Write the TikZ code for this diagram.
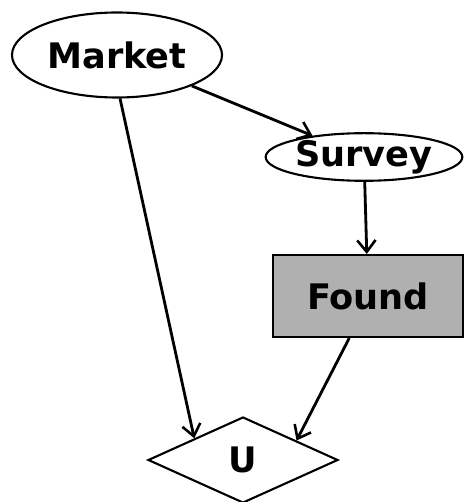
\documentclass[tikz,border=0pt]{standalone}
\usepackage{fontspec}
\setmainfont{DejaVu Sans}
\usetikzlibrary{shapes.geometric,arrows.meta}
\begin{document}
\begin{tikzpicture}[
  chance/.style={draw,ellipse,line width=1.8pt,inner sep=0pt,font=\fontsize{30}{34}\selectfont\bfseries},
  decision/.style={draw,rectangle,line width=1.8pt,fill=gray!62,inner sep=0pt,font=\fontsize{30}{34}\selectfont\bfseries},
  utility/.style={draw,diamond,line width=1.8pt,inner sep=0pt,font=\fontsize{30}{34}\selectfont\bfseries},
  link/.style={line width=2.4pt,-{Straight Barb[length=3.5mm,width=5.5mm,line width=2.2pt]}}]
  \useasboundingbox (0,0) rectangle (14.01,15.06);

  % Chance and decision nodes
  \node[chance,minimum width=6.3cm,minimum height=2.55cm] (market) at (3.51,13.41) {Market};
  \node[chance,minimum width=5.9cm,minimum height=1.4cm] (survey) at (10.92,10.35) {Survey};
  \node[decision,minimum width=5.7cm,minimum height=2.46cm] (found) at (11.04,6.18) {Found};

  % Utility node
  \node[utility,minimum width=5.7cm,minimum height=2.58cm] (u) at (7.29,1.26) {U};

  % Links
  \draw[link] (market) -- (survey);
  \draw[link] (survey) -- (found);
  \draw[link] (market.-86) -- (u.156);
  \draw[link] (found.-114) -- (u.20);
\end{tikzpicture}
\end{document}
